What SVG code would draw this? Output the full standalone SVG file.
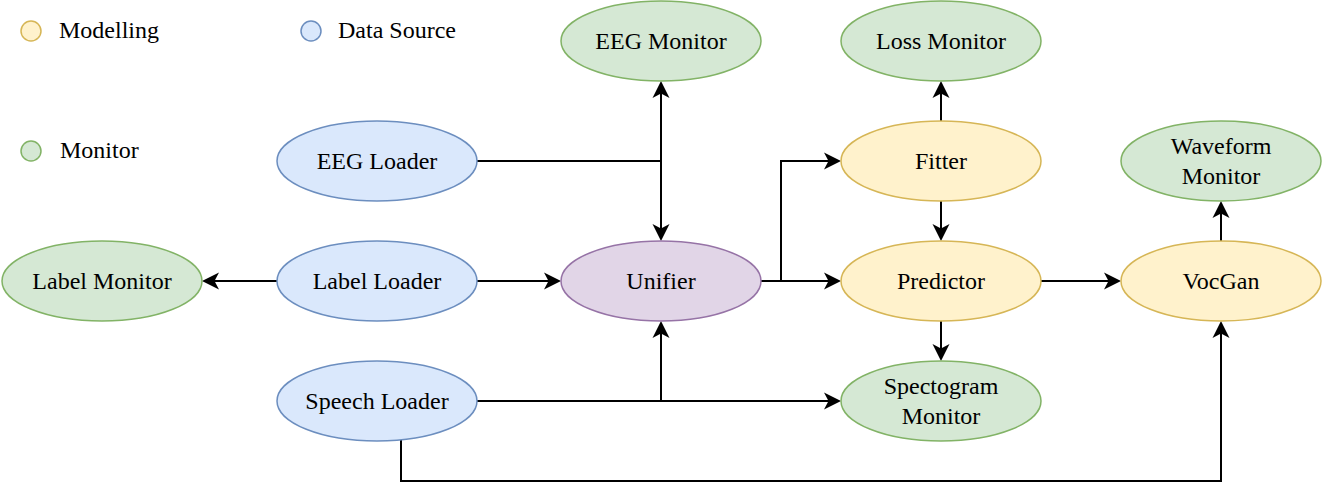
<svg xmlns="http://www.w3.org/2000/svg" width="1322" height="498" viewBox="0 0 1322 498">
<style>
text{font-family:"Liberation Serif","Times New Roman",serif;font-size:24px;fill:#000;text-anchor:middle}
.lg{text-anchor:start}
.blue{fill:#dae8fc;stroke:#6c8ebf;stroke-width:1.5}
.green{fill:#d5e8d4;stroke:#82b366;stroke-width:1.5}
.yellow{fill:#fff2cc;stroke:#d6b656;stroke-width:1.5}
.purple{fill:#e1d5e7;stroke:#9673a6;stroke-width:1.5}
.e{fill:none;stroke:#000;stroke-width:2}
.a{marker-end:url(#arr)}
</style>
<defs>
<marker id="arr" viewBox="-18 -9 18 18" refX="-4" refY="0" markerWidth="18" markerHeight="18" markerUnits="userSpaceOnUse" orient="auto">
<path d="M0,0 L-17,-8.5 L-12.5,0 L-17,8.5 Z" fill="#000"/>
</marker>
</defs>
<rect width="1322" height="498" fill="#fff"/>
<g id="legend">
<circle class="yellow" cx="31" cy="31" r="10"/><text class="lg" x="59" y="38">Modelling</text>
<circle class="blue" cx="311" cy="31" r="10"/><text class="lg" x="338" y="38">Data Source</text>
<circle class="green" cx="31" cy="151" r="10"/><text class="lg" x="60" y="158">Monitor</text>
</g>
<g id="connectors">
<path class="e a" d="M477,161 H661 V237"/>
<path class="e a" d="M661,161 V85"/>
<path class="e a" d="M277,281 H206"/>
<path class="e a" d="M477,281 H557"/>
<path class="e a" d="M761,281 H837"/>
<path class="e a" d="M781,281 V161 H837"/>
<path class="e a" d="M941,121 V85"/>
<path class="e a" d="M941,201 V237"/>
<path class="e a" d="M1041,281 H1117"/>
<path class="e a" d="M1221,241 V205"/>
<path class="e a" d="M941,321 V357"/>
<path class="e a" d="M477,401 H837"/>
<path class="e a" d="M661,401 V325"/>
<path class="e a" d="M401,440 V481 H1221 V325"/>
</g>
<g id="eeg-monitor"><ellipse class="green" cx="661" cy="41" rx="100" ry="40"/><text x="661" y="49">EEG Monitor</text></g>
<g id="loss-monitor"><ellipse class="green" cx="941" cy="41" rx="100" ry="40"/><text x="941" y="49">Loss Monitor</text></g>
<g id="eeg-loader"><ellipse class="blue" cx="377" cy="161" rx="100" ry="40"/><text x="377" y="169">EEG Loader</text></g>
<g id="fitter"><ellipse class="yellow" cx="941" cy="161" rx="100" ry="40"/><text x="941" y="169">Fitter</text></g>
<g id="waveform-monitor"><ellipse class="green" cx="1221" cy="161" rx="100" ry="40"/><text x="1221" y="154">Waveform</text><text x="1221" y="184">Monitor</text></g>
<g id="label-monitor"><ellipse class="green" cx="102" cy="281" rx="100" ry="40"/><text x="102" y="289">Label Monitor</text></g>
<g id="label-loader"><ellipse class="blue" cx="377" cy="281" rx="100" ry="40"/><text x="377" y="289">Label Loader</text></g>
<g id="unifier"><ellipse class="purple" cx="661" cy="281" rx="100" ry="40"/><text x="661" y="289">Unifier</text></g>
<g id="predictor"><ellipse class="yellow" cx="941" cy="281" rx="100" ry="40"/><text x="941" y="289">Predictor</text></g>
<g id="vocgan"><ellipse class="yellow" cx="1221" cy="281" rx="100" ry="40"/><text x="1221" y="289">VocGan</text></g>
<g id="speech-loader"><ellipse class="blue" cx="377" cy="401" rx="100" ry="40"/><text x="377" y="409">Speech Loader</text></g>
<g id="spectogram-monitor"><ellipse class="green" cx="941" cy="401" rx="100" ry="40"/><text x="941" y="394">Spectogram</text><text x="941" y="424">Monitor</text></g>
</svg>
